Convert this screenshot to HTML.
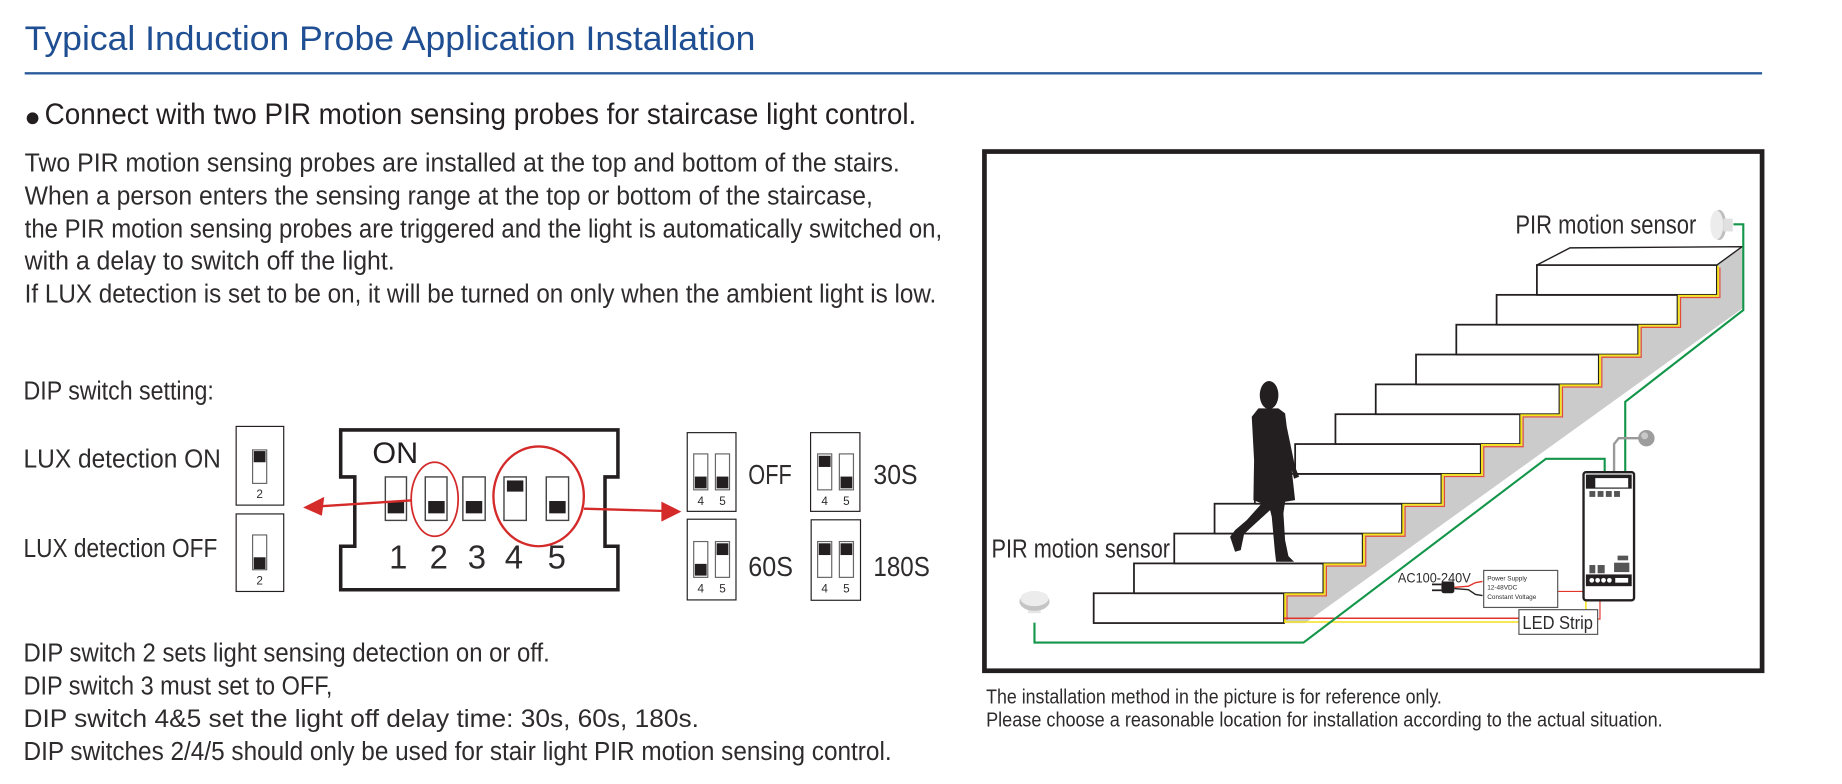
<!DOCTYPE html>
<html><head><meta charset="utf-8"><style>
html,body{margin:0;padding:0;background:#fff;}
svg{display:block}
text{font-family:"Liberation Sans",sans-serif;fill:#2e2b2c}
</style></head><body>
<svg width="1842" height="784" viewBox="0 0 1568 667.4" xmlns="http://www.w3.org/2000/svg">
<rect x="0" y="0" width="1568" height="667.4" fill="#fff"/>
<!-- header -->
<text x="21" y="42.6" font-size="29" style="fill:#1f4f92" textLength="622" lengthAdjust="spacingAndGlyphs">Typical Induction Probe Application Installation</text>
<line x1="21" y1="62.4" x2="1500" y2="62.4" stroke="#2c5b9c" stroke-width="2"/>
<circle cx="27.7" cy="100.7" r="5" fill="#231f20"/>
<text x="38" y="105.6" font-size="25" style="fill:#231f20" textLength="742" lengthAdjust="spacingAndGlyphs">Connect with two PIR motion sensing probes for staircase light control.</text>
<g font-size="22">
<text x="21" y="146.2" textLength="745" lengthAdjust="spacingAndGlyphs">Two PIR motion sensing probes are installed at the top and bottom of the stairs.</text>
<text x="21" y="174" textLength="722" lengthAdjust="spacingAndGlyphs">When a person enters the sensing range at the top or bottom of the staircase,</text>
<text x="21" y="202" textLength="781" lengthAdjust="spacingAndGlyphs">the PIR motion sensing probes are triggered and the light is automatically switched on,</text>
<text x="21" y="229.5" textLength="315" lengthAdjust="spacingAndGlyphs">with a delay to switch off the light.</text>
<text x="21" y="257.5" textLength="776" lengthAdjust="spacingAndGlyphs">If LUX detection is set to be on, it will be turned on only when the ambient light is low.</text>
<text x="20" y="340" textLength="162" lengthAdjust="spacingAndGlyphs">DIP switch setting:</text>
<text x="20" y="398" textLength="168" lengthAdjust="spacingAndGlyphs">LUX detection ON</text>
<text x="20" y="474" textLength="165" lengthAdjust="spacingAndGlyphs">LUX detection OFF</text>
<text x="20" y="563" textLength="448" lengthAdjust="spacingAndGlyphs">DIP switch 2 sets light sensing detection on or off.</text>
<text x="20" y="591" textLength="263" lengthAdjust="spacingAndGlyphs">DIP switch 3 must set to OFF,</text>
<text x="20" y="619" font-size="21" textLength="575" lengthAdjust="spacingAndGlyphs">DIP switch 4&amp;5 set the light off delay time: 30s, 60s, 180s.</text>
<text x="20" y="647" textLength="739" lengthAdjust="spacingAndGlyphs">DIP switches 2/4/5 should only be used for stair light PIR motion sensing control.</text>
</g>
<!-- LUX small boxes -->
<g stroke="#231f20" fill="#fff">
<rect x="201" y="363" width="40.5" height="67" stroke-width="1"/>
<rect x="215" y="383" width="12" height="28.5" stroke-width="1" stroke="#666"/>
<rect x="201" y="437.5" width="40.5" height="66" stroke-width="1"/>
<rect x="215" y="455.4" width="12" height="29.6" stroke-width="1" stroke="#666"/>
</g>
<rect x="216" y="384" width="10" height="9.5" fill="#231f20"/>
<rect x="216" y="474.4" width="10" height="10" fill="#231f20"/>
<text x="221" y="424" font-size="10" text-anchor="middle">2</text>
<text x="221" y="497.5" font-size="10" text-anchor="middle">2</text>
<!-- DIP body -->
<path d="M290,366 H526 V406 H515 V465 H526 V502 H290 V465 H302 V406 H290 Z" fill="#fff" stroke="#231f20" stroke-width="3"/>
<text x="317" y="394" font-size="25" style="fill:#231f20" textLength="39" lengthAdjust="spacingAndGlyphs">ON</text>
<g stroke="#444" stroke-width="1.2" fill="#fff">
<rect x="328" y="406" width="18" height="37"/>
<rect x="362" y="406" width="18.5" height="37"/>
<rect x="394" y="406" width="19" height="37"/>
<rect x="429" y="406" width="19" height="37"/>
<rect x="465" y="406" width="19" height="37"/>
</g>
<g fill="#231f20">
<rect x="330" y="426.5" width="14" height="10.5"/>
<rect x="364.5" y="426.5" width="14" height="10.5"/>
<rect x="396.5" y="426.5" width="14" height="10.5"/>
<rect x="431.5" y="409" width="14" height="9.5"/>
<rect x="467.5" y="426.5" width="14" height="10.5"/>
</g>
<g font-size="28" text-anchor="middle" style="fill:#231f20">
<text x="339" y="484">1</text><text x="373.5" y="484">2</text><text x="406" y="484">3</text><text x="437.5" y="484">4</text><text x="474" y="484">5</text>
</g>
<ellipse cx="370" cy="425" rx="20" ry="31.5" fill="none" stroke="#d42a2a" stroke-width="1.5"/>
<ellipse cx="458.5" cy="422.5" rx="38.5" ry="42.5" fill="none" stroke="#d42a2a" stroke-width="2"/>
<line x1="350" y1="426" x2="272" y2="431" stroke="#d42a2a" stroke-width="2"/>
<polygon points="258,432 276,423 274,439" fill="#d42a2a"/>
<line x1="497" y1="433" x2="566" y2="435" stroke="#d42a2a" stroke-width="2"/>
<polygon points="580,435.5 563,427 563,444" fill="#d42a2a"/>
<!-- delay boxes -->
<g stroke="#231f20" fill="#fff" stroke-width="1">
<rect x="585" y="368.3" width="41.5" height="67"/>
<rect x="690" y="368.3" width="42" height="67"/>
<rect x="585" y="442" width="41.5" height="68.7"/>
<rect x="690.5" y="442.5" width="42" height="68.5"/>
</g>
<g stroke="#666" fill="#fff" stroke-width="1">
<rect x="590.5" y="386.4" width="12" height="30.6"/><rect x="609" y="386.4" width="12" height="30.6"/>
<rect x="696" y="386.4" width="12" height="30.6"/><rect x="714.5" y="386.4" width="12" height="30.6"/>
<rect x="590.5" y="461" width="12" height="30.5"/><rect x="609" y="461" width="12" height="30.5"/>
<rect x="696" y="461" width="12" height="30.5"/><rect x="714.5" y="461" width="12" height="30.5"/>
</g>
<g fill="#231f20">
<rect x="591.5" y="405.7" width="10" height="10"/><rect x="610" y="405.7" width="10" height="10"/>
<rect x="697" y="388" width="10" height="9.5"/><rect x="715.5" y="405.7" width="10" height="10"/>
<rect x="591.5" y="480" width="10" height="10"/><rect x="610" y="462.5" width="10" height="10"/>
<rect x="697" y="462.5" width="10" height="10"/><rect x="715.5" y="462.5" width="10" height="10"/>
</g>
<g font-size="10" text-anchor="middle">
<text x="596.5" y="430">4</text><text x="615" y="430">5</text>
<text x="702" y="430">4</text><text x="720.5" y="430">5</text>
<text x="596.5" y="504.5">4</text><text x="615" y="504.5">5</text>
<text x="702" y="504.5">4</text><text x="720.5" y="504.5">5</text>
</g>
<g font-size="24">
<text x="637" y="412" textLength="37" lengthAdjust="spacingAndGlyphs">OFF</text>
<text x="743.5" y="412" textLength="37.5" lengthAdjust="spacingAndGlyphs">30S</text>
<text x="637" y="490.3" textLength="38" lengthAdjust="spacingAndGlyphs">60S</text>
<text x="743.5" y="490.3" textLength="48" lengthAdjust="spacingAndGlyphs">180S</text>
</g>
<!-- right panel -->
<rect x="838" y="129" width="662" height="442" fill="#fff" stroke="#231f20" stroke-width="4"/>
<text x="839.4" y="598.7" font-size="17" textLength="388" lengthAdjust="spacingAndGlyphs">The installation method in the picture is for reference only.</text>
<text x="839.4" y="618.6" font-size="17" textLength="576" lengthAdjust="spacingAndGlyphs">Please choose a reasonable location for installation according to the actual situation.</text>
<!-- grey side -->
<polygon points="1461.5,225.6 1461.5,251 1428,251 1428,276.4 1394.5,276.4 1394.5,301.8 1361,301.8 1361,327.2 1327.5,327.2 1327.5,352.6 1294,352.6 1294,378 1260.5,378 1260.5,403.4 1227,403.4 1227,428.8 1193.5,428.8 1193.5,454.2 1160,454.2 1160,479.6 1126.5,479.6 1126.5,505 1093,505 1093,530.4 1111,530.4 1484,262 1484,210.5" fill="#cbcbcb"/>
<!-- steps -->
<g fill="#fff" stroke="#231f20" stroke-width="1.5">
<rect x="931" y="505" width="162" height="25.4"/>
<rect x="965.3" y="479.6" width="161.2" height="25.4"/>
<rect x="999.6" y="454.2" width="160.4" height="25.4"/>
<rect x="1033.9" y="428.8" width="159.6" height="25.4"/>
<rect x="1068.2" y="403.4" width="158.8" height="25.4"/>
<rect x="1102.5" y="378" width="158" height="25.4"/>
<rect x="1136.8" y="352.6" width="157.2" height="25.4"/>
<rect x="1171.1" y="327.2" width="156.4" height="25.4"/>
<rect x="1205.4" y="301.8" width="155.6" height="25.4"/>
<rect x="1239.7" y="276.4" width="154.8" height="25.4"/>
<rect x="1274" y="251" width="154" height="25.4"/>
<rect x="1308.3" y="225.6" width="153.2" height="25.4"/>
</g>
<polygon points="1308.3,225.6 1336.5,211 1483,210 1461.5,225.6" fill="#fff" stroke="#231f20" stroke-width="1.2"/>
<!-- strip lines -->
<polyline points="1461.5,226 1461.5,251.6 1428,251.6 1428,277 1394.5,277 1394.5,302.4 1361,302.4 1361,327.8 1327.5,327.8 1327.5,353.2 1294,353.2 1294,378.6 1260.5,378.6 1260.5,404 1227,404 1227,429.4 1193.5,429.4 1193.5,454.8 1160,454.8 1160,480.2 1126.5,480.2 1126.5,505.6 1093,505.6 1093,530" fill="none" stroke="#f5e21b" stroke-width="1.6" transform="translate(1,0.2)"/>
<polyline points="1461.5,226 1461.5,251.6 1428,251.6 1428,277 1394.5,277 1394.5,302.4 1361,302.4 1361,327.8 1327.5,327.8 1327.5,353.2 1294,353.2 1294,378.6 1260.5,378.6 1260.5,404 1227,404 1227,429.4 1193.5,429.4 1193.5,454.8 1160,454.8 1160,480.2 1126.5,480.2 1126.5,505.6 1093,505.6 1093,526" fill="none" stroke="#e34a3a" stroke-width="1" transform="translate(2.6,1.7)"/>
<!-- wires -->
<polyline points="1093,526.3 1293,526.3" fill="none" stroke="#e3342c" stroke-width="1.3"/>
<polyline points="1093,529.5 1350,529.5 1350,507" fill="none" stroke="#f5e21b" stroke-width="1.3"/>
<polyline points="1360,527 1362,527 1362,505" fill="none" stroke="#e3342c" stroke-width="1"/>
<polyline points="1322,503.5 1353,503.5" fill="none" stroke="#e3342c" stroke-width="1"/>
<polyline points="880.6,530 880.6,547 1109.6,547 1316,390.6 1366,390.6 1366,414" fill="none" stroke="#13964a" stroke-width="1.8"/>
<polyline points="1475.6,191 1484,191 1484,264 1383.5,342 1383.5,414" fill="none" stroke="#13964a" stroke-width="1.8"/>
<polyline points="1396,373 1378,373 1374,378 1374,414" fill="none" stroke="#999" stroke-width="2"/>
<circle cx="1401.5" cy="373" r="7" fill="#9d9d9d"/>
<circle cx="1400" cy="371" r="3" fill="#c8c8c8"/>
<!-- controller -->
<rect x="1348" y="402" width="43" height="109" rx="2" fill="#fff" stroke="#231f20" stroke-width="2"/>
<rect x="1350" y="404" width="39" height="12" fill="#231f20"/>
<rect x="1358" y="407" width="28" height="8" fill="#fff"/>
<rect x="1350" y="489" width="39" height="10" fill="#231f20"/>
<g fill="#fff"><circle cx="1355" cy="494" r="2"/><circle cx="1360" cy="494" r="2"/><circle cx="1365" cy="494" r="2"/><circle cx="1370" cy="494" r="2"/><rect x="1375" y="492" width="11" height="4"/></g>
<g fill="#555"><rect x="1353" y="418" width="5" height="5"/><rect x="1360" y="418" width="5" height="5"/><rect x="1367" y="418" width="5" height="5"/><rect x="1374" y="418" width="5" height="5"/>
<rect x="1377" y="473" width="9" height="4"/><rect x="1374" y="479" width="13" height="8"/><rect x="1353" y="481" width="5" height="7"/><rect x="1360" y="481" width="6" height="7"/></g>
<!-- power supply -->
<rect x="1263" y="485.6" width="63" height="31.5" fill="#fff" stroke="#555" stroke-width="1"/>
<g font-size="5.5"><text x="1266" y="494">Power Supply</text><text x="1266" y="502">12-48VDC</text><text x="1266" y="510">Constant Voltage</text></g>
<text x="1190" y="496" font-size="12" textLength="62" lengthAdjust="spacingAndGlyphs">AC100-240V</text>
<polyline points="1238,500 1250,499 1256,496 1262,495" fill="none" stroke="#e3342c" stroke-width="1.2"/>
<polyline points="1238,501 1250,502 1256,506 1262,507" fill="none" stroke="#231f20" stroke-width="1.2"/>
<rect x="1227" y="495" width="11" height="10" rx="2" fill="#231f20"/>
<line x1="1219" y1="497.5" x2="1227" y2="497.5" stroke="#231f20" stroke-width="1.5"/>
<line x1="1219" y1="502.5" x2="1227" y2="502.5" stroke="#231f20" stroke-width="1.5"/>
<rect x="1293" y="519" width="67" height="21" fill="#fff" stroke="#555" stroke-width="1"/>
<text x="1296" y="535.5" font-size="16" textLength="60" lengthAdjust="spacingAndGlyphs">LED Strip</text>
<!-- sensors -->
<rect x="875" y="514" width="11" height="8" fill="#e6e6e6"/>
<ellipse cx="880.6" cy="512" rx="12.8" ry="8" fill="#c4c4c4"/>
<ellipse cx="880.6" cy="509.5" rx="12" ry="6.5" fill="#ececec"/>
<ellipse cx="1463.5" cy="191.5" rx="6" ry="12.8" fill="#bdbdbd"/>
<ellipse cx="1461.4" cy="191.5" rx="5.5" ry="12.3" fill="#ececec"/>
<rect x="1467" y="186" width="8" height="11" fill="#e0e0e0"/>
<text x="1290" y="198.6" font-size="22" textLength="154" lengthAdjust="spacingAndGlyphs">PIR motion sensor</text>
<text x="844" y="474.5" font-size="22" textLength="152" lengthAdjust="spacingAndGlyphs">PIR motion sensor</text>
<!-- woman -->
<g transform="translate(979,306.5) scale(0.2838)" fill="#231f20">
<ellipse cx="357" cy="105" rx="28" ry="42"/>
<path d="M325,145 L385,145 L405,160 L410,200 L435,320 L447,350 L432,356 L425,330 L435,420 L405,425 L400,460 L405,540 L415,588 L432,605 L378,605 L374,570 L365,470 L360,450 L300,505 L282,522 L272,570 L255,575 L240,530 L255,510 L290,480 L335,430 L310,420 L312,300 L305,170 Z"/>
</g>
</svg>
</body></html>
